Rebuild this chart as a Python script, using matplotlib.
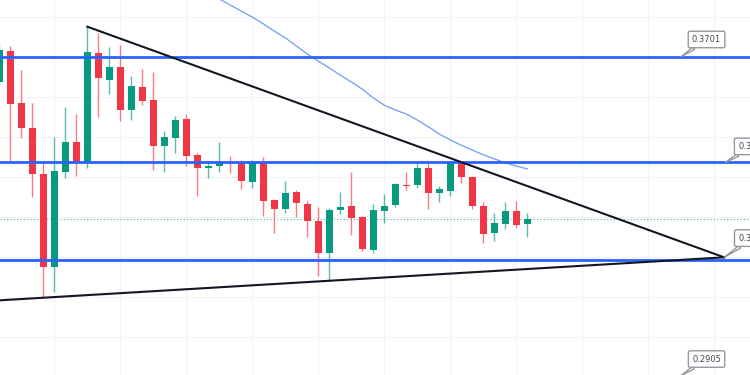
import numpy as np
import matplotlib.pyplot as plt

# candle data (one per bar, left to right)
opens = [0.3638, 0.3716, 0.3585, 0.3523, 0.3408, 0.3176, 0.3413, 0.3488, 0.3436, 0.3710,
         0.3643, 0.3675, 0.3568, 0.3625, 0.3593, 0.3478, 0.3498, 0.3545, 0.3456, 0.3423,
         0.3428, 0.3439, 0.3436, 0.3388, 0.3436, 0.3343, 0.3321, 0.3363, 0.3333, 0.3291,
         0.3211, 0.3318, 0.3328, 0.3301, 0.3218, 0.3316, 0.3331, 0.3381, 0.3381, 0.3423,
         0.3361, 0.3366, 0.3436, 0.3401, 0.3328, 0.3261, 0.3283, 0.3316, 0.3283]
highs = [0.3730, 0.3728, 0.3668, 0.3585, 0.3436, 0.3501, 0.3575, 0.3558, 0.3775, 0.3760,
         0.3725, 0.3730, 0.3653, 0.3670, 0.3663, 0.3516, 0.3553, 0.3558, 0.3461, 0.3441,
         0.3488, 0.3453, 0.3443, 0.3443, 0.3451, 0.3346, 0.3391, 0.3368, 0.3341, 0.3326,
         0.3323, 0.3363, 0.3413, 0.3302, 0.3333, 0.3358, 0.3386, 0.3413, 0.3441, 0.3438,
         0.3378, 0.3438, 0.3438, 0.3403, 0.3338, 0.3311, 0.3338, 0.3341, 0.3311]
lows = [0.3630, 0.3436, 0.3498, 0.3351, 0.3101, 0.3114, 0.3398, 0.3403, 0.3423, 0.3550,
        0.3608, 0.3540, 0.3543, 0.3580, 0.3418, 0.3413, 0.3461, 0.3428, 0.3353, 0.3398,
        0.3413, 0.3411, 0.3371, 0.3373, 0.3303, 0.3261, 0.3311, 0.3301, 0.3251, 0.3153,
        0.3141, 0.3308, 0.3256, 0.3216, 0.3211, 0.3286, 0.3326, 0.3368, 0.3373, 0.3321,
        0.3338, 0.3353, 0.3386, 0.3321, 0.3236, 0.3241, 0.3271, 0.3273, 0.3251]
closes = [0.3718, 0.3583, 0.3523, 0.3408, 0.3176, 0.3416, 0.3488, 0.3436, 0.3713, 0.3648,
          0.3675, 0.3568, 0.3628, 0.3590, 0.3478, 0.3501, 0.3543, 0.3453, 0.3423, 0.3428,
          0.3438, 0.3436, 0.3391, 0.3436, 0.3341, 0.3321, 0.3361, 0.3336, 0.3291, 0.3211,
          0.3318, 0.3326, 0.3298, 0.3221, 0.3318, 0.3328, 0.3383, 0.3378, 0.3423, 0.3361,
          0.3371, 0.3436, 0.3401, 0.3328, 0.3258, 0.3286, 0.3316, 0.3281, 0.3296]

# moving average (only the visible part, bars 19..48)
ma_start = 19
ma_vals = [0.3863, 0.3845, 0.3830, 0.3815, 0.3800, 0.3783, 0.3765, 0.3748, 0.3728, 0.3708,
           0.3690, 0.3673, 0.3655, 0.3638, 0.3620, 0.3598, 0.3580, 0.3568, 0.3558, 0.3543,
           0.3526, 0.3508, 0.3493, 0.3480, 0.3468, 0.3456, 0.3446, 0.3436, 0.3428, 0.3421]

# drawings
levels = [0.3701, 0.3437, 0.3193]
upper_tl_x = [8, 65.9]
upper_tl_y = [0.3776, 0.3200]
lower_tl_x = [-1, 65.9]
lower_tl_y = [0.3091, 0.3200]
labels = ["0.3701", "0.3437", "0.3200", "0.2905"]
label_pts = [(62, 0.3701), (66, 0.3437), (65.9, 0.3200), (62, 0.2905)]
label_box = [(64.3, 0.3744), (68.5, 0.3477), (68.5, 0.3248), (64.3, 0.2946)]

GREEN = '#089981'
RED = '#f23645'

fig = plt.figure(figsize=(7.5, 3.75), dpi=100)
ax = fig.add_axes([0, 0, 1, 1])

x = np.arange(len(opens))
o = np.array(opens)
c = np.array(closes)
up = c >= o
cols = np.where(up, GREEN, RED)

# grid
for gx in np.arange(5, 70, 6):
    ax.axvline(gx, color='#f0f3fa', lw=0.8, zorder=0)
for gy in np.arange(0.29, 0.39, 0.01):
    ax.axhline(gy, color='#f0f3fa', lw=0.8, zorder=0)

# candles
ax.vlines(x, lows, highs, colors=cols, lw=1, alpha=0.65, zorder=2)
body_h = np.maximum(np.abs(c - o), 0.0003)
ax.bar(x, body_h, bottom=np.minimum(o, c), width=0.66, color=cols, zorder=2.5)

# moving average
ax.plot(np.arange(ma_start, ma_start + len(ma_vals)), ma_vals, color='#6f9cf6', lw=0.9, zorder=2.2)

# last price
ax.axhline(closes[-1], color=GREEN, lw=0.8, ls=(0, (1, 2)), alpha=0.7, zorder=1)

# horizontal levels
for lv in levels:
    ax.axhline(lv, color='#2962ff', lw=2, zorder=3)

# trend lines
ax.plot(upper_tl_x, upper_tl_y, color='#131722', lw=1.5, zorder=3.5)
ax.plot(lower_tl_x, lower_tl_y, color='#131722', lw=1.5, zorder=3.5)

# price callouts
for txt, pt, bx in zip(labels, label_pts, label_box):
    ax.annotate(txt, xy=pt, xytext=bx, textcoords='data', ha='center', va='center',
                fontsize=6, color='#434651', annotation_clip=False, zorder=5,
                bbox=dict(boxstyle='round,pad=0.45,rounding_size=0.2', fc='white', ec='#9598a1', lw=1),
                arrowprops=dict(arrowstyle='wedge,tail_width=0.35,shrink_factor=0.5',
                                fc='white', ec='#9598a1', lw=1, shrinkA=0, shrinkB=0))

ax.set_xlim(0.064, 68.25)
ax.set_ylim(0.29062, 0.38426)
ax.axis('off')

fig.savefig('out.png', dpi=100)
